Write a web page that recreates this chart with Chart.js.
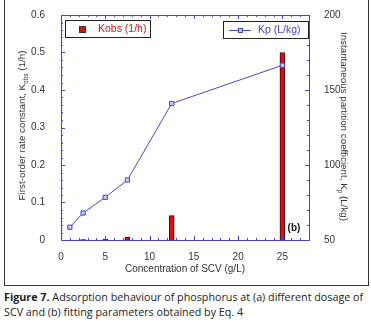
<!DOCTYPE html>
<html lang="en">
<head>
<meta charset="UTF-8">
<title>Figure 7</title>
<script src="https://cdn.jsdelivr.net/npm/chart.js"></script>
<style>
    body { margin: 0; padding: 0; background: #fff; width: 371px; height: 331px; overflow: hidden; position: relative; }
    .frame { position: absolute; left: 4px; top: -1px; width: 363px; height: 285px; border: 1px solid #333; }
    #chart { position: absolute; left: 0; top: 0; }
    .caption { position: absolute; left: 4px; top: 290px; width: 367px; font-family: "Open Sans", sans-serif; font-size: 10.75px; line-height: 15px; color: #222; }
    .caption b { font-weight: bold; }
</style>
</head>
<body>
<div class="frame"></div>
<canvas id="chart" width="371" height="285"></canvas>
<div class="caption"><b>Figure 7.</b> Adsorption behaviour of phosphorus at (a) different dosage of SCV and (b) fitting parameters obtained by Eq. 4</div>

<script>
// data
const dose = [1, 2.5, 5, 7.5, 12.5, 25];           // g/L
const kobs = [0, 0.001, 0.002, 0.008, 0.065, 0.5]; // 1/h
const kp = [58.5, 68, 78.5, 90, 141, 166.5];        // L/kg
const xTicks = [0, 5, 10, 15, 20, 25];

const blue = '#4646c8';
const red = '#d81010';
const font = 'Liberation Sans, Arial, sans-serif';

// frame, inner ticks, legends, titles
const decor = {
    id: 'decor',
    afterDraw(chart) {
        const c = chart.ctx, a = chart.chartArea;
        const x = chart.scales.x, y = chart.scales.y, y2 = chart.scales.y2;
        c.save();
        c.strokeStyle = blue;
        c.lineWidth = 1;
        c.strokeRect(a.left + 0.5, a.top + 0.5, a.right - a.left, a.bottom - a.top);
        c.beginPath();
        for (let v = 0; v <= 28; v++) {
            const px = Math.round(x.getPixelForValue(v)) + 0.5;
            const len = v % 5 === 0 ? 4 : 2;
            c.moveTo(px, a.bottom); c.lineTo(px, a.bottom - len);
            c.moveTo(px, a.top); c.lineTo(px, a.top + len);
        }
        for (let i = 0; i <= 30; i++) {
            const py = Math.round(y.getPixelForValue(i * 0.02)) + 0.5;
            const len = i % 5 === 0 ? 4 : 2;
            c.moveTo(a.left, py); c.lineTo(a.left + len, py);
        }
        for (let v = 50; v <= 200; v += 10) {
            const py = Math.round(y2.getPixelForValue(v)) + 0.5;
            const len = v % 50 === 0 ? 4 : 2;
            c.moveTo(a.right, py); c.lineTo(a.right - len, py);
        }
        c.stroke();

        // legend boxes
        c.fillStyle = '#fff';
        c.strokeStyle = '#222';
        c.fillRect(65, 20, 85, 17); c.strokeRect(65.5, 20.5, 85, 17);
        c.fillRect(223, 21, 85, 17); c.strokeRect(223.5, 21.5, 85, 17);
        c.fillStyle = red; c.strokeStyle = '#333';
        c.fillRect(79, 26, 7, 7); c.strokeRect(79.5, 26.5, 6, 6);
        c.font = '10.5px ' + font;
        c.textBaseline = 'middle';
        c.fillText('Kobs (1/h)', 98, 29.5);
        c.strokeStyle = blue;
        c.beginPath(); c.moveTo(229, 30.5); c.lineTo(251, 30.5); c.stroke();
        c.fillStyle = '#c8c8f0';
        c.fillRect(238, 28, 5, 5); c.strokeRect(238.5, 28.5, 4, 4);
        c.fillStyle = blue;
        c.fillText('Kp (L/kg)', 258, 30.5);

        // (b) label
        c.fillStyle = '#111';
        c.font = 'bold 10px ' + font;
        c.textAlign = 'center';
        c.fillText('(b)', 294, 228);

        // x title
        c.fillStyle = '#333';
        c.font = '10px ' + font;
        c.fillText('Concentration of SCV (g/L)', (a.left + a.right) / 2, 269);

        // left title with subscript
        const midY = (a.top + a.bottom) / 2;
        drawSubTitle(c, 22, midY - 2, -Math.PI / 2, 'First-order rate constant, K', 'obs', ' (1/h)');
        drawSubTitle(c, 344, midY - 1, Math.PI / 2, 'Instantaneous partition coefficient, K', 'p', ' (L/kg)');
        c.restore();
    }
};

function drawSubTitle(c, cx, cy, rot, a, sub, b) {
    c.save();
    c.translate(cx, cy);
    c.rotate(rot);
    c.fillStyle = '#333';
    c.textBaseline = 'middle';
    c.textAlign = 'left';
    const big = '9.8px ' + font, small = '6.5px ' + font;
    c.font = big; const wa = c.measureText(a).width, wb = c.measureText(b).width;
    c.font = small; const ws = c.measureText(sub).width;
    let x0 = -(wa + ws + wb) / 2;
    c.font = big; c.fillText(a, x0, 0);
    c.font = small; c.fillText(sub, x0 + wa, 4);
    c.font = big; c.fillText(b, x0 + wa + ws, 0);
    c.restore();
}

new Chart(document.getElementById('chart'), {
    type: 'bar',
    data: {
        datasets: [
            {
                type: 'line',
                label: 'Kp (L/kg)',
                data: dose.map((d, i) => ({ x: d, y: kp[i] })),
                yAxisID: 'y2',
                borderColor: blue,
                borderWidth: 1,
                pointStyle: 'rect',
                pointRadius: 3,
                pointBackgroundColor: '#c8c8f0',
                pointBorderColor: blue,
                pointBorderWidth: 1,
                order: 0
            },
            {
                type: 'bar',
                label: 'Kobs (1/h)',
                data: dose.map((d, i) => ({ x: d, y: kobs[i] })),
                yAxisID: 'y',
                backgroundColor: red,
                borderColor: '#3a0a0a',
                borderWidth: 1,
                barThickness: 5,
                order: 1
            }
        ]
    },
    options: {
        responsive: false,
        animation: false,
        layout: { padding: { top: 15, left: 0, right: 0, bottom: 0 } },
        plugins: { legend: { display: false }, tooltip: { enabled: false } },
        scales: {
            x: {
                type: 'linear', min: 0, max: 28, offset: false,
                afterBuildTicks: s => { s.ticks = xTicks.map(v => ({ value: v })); },
                afterFit: s => { s.height = 45; },
                grid: { display: false, offset: false }, border: { display: false },
                ticks: { color: '#333', font: { family: font, size: 10 }, padding: 3 }
            },
            y: {
                position: 'left', min: 0, max: 0.6,
                afterFit: s => { s.width = 61; },
                grid: { display: false }, border: { display: false },
                ticks: { stepSize: 0.1, color: '#333', font: { family: font, size: 10 }, padding: 8 }
            },
            y2: {
                position: 'right', min: 50, max: 200,
                afterFit: s => { s.width = 62; },
                grid: { display: false }, border: { display: false },
                ticks: { stepSize: 50, color: '#333', font: { family: font, size: 10 }, padding: 7 }
            }
        }
    },
    plugins: [decor]
});
</script>
</body>
</html>
